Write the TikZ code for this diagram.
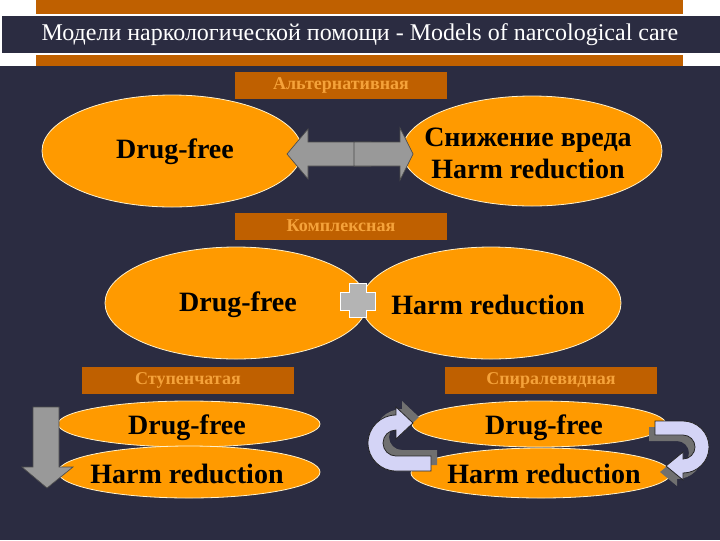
\documentclass[tikz,border=0pt]{standalone}
\usepackage{fontspec}
\setmainfont{Liberation Serif}[BoldFont={Liberation Serif Bold}]
\usetikzlibrary{shapes.geometric}
\definecolor{bgdark}{HTML}{2B2C41}
\definecolor{barorange}{HTML}{BF6000}
\definecolor{ellorange}{HTML}{FF9A00}
\definecolor{labtext}{HTML}{F5A23A}
\definecolor{arrgray}{HTML}{999999}
\definecolor{lav}{HTML}{D4D4F6}
\definecolor{shadowgray}{HTML}{707070}
\definecolor{crossgray}{HTML}{B4B4B4}
\definecolor{ovalline}{HTML}{FFF2CC}
\begin{document}
\begin{tikzpicture}[x=0.75pt,y=-0.75pt,
  oval/.style={ellipse, fill=ellorange, draw=ovalline, line width=0.6pt, inner sep=0pt},
  ovaltext/.style={inner sep=0pt, font=\bfseries\fontsize{21}{24}\selectfont, text=black, align=center},
  labbox/.style={fill=barorange, minimum width=159pt, minimum height=20.25pt, inner sep=0pt, text=labtext, font=\bfseries\fontsize{13.5}{15}\selectfont},
  blockarrow/.style={fill=arrgray, draw=black!70, line width=0.5pt},
  curvarrow/.style={fill=lav, draw=black!85, line width=0.6pt},
  shadowarrow/.style={fill=shadowgray},
  crossshape/.style={fill=crossgray, draw=white, line width=0.6pt}
]
\useasboundingbox (0,0) rectangle (720,540);
\fill[bgdark] (0,0) rectangle (720,540);
\fill[white] (0,0) rectangle (720,66);
\fill[barorange] (36,0) rectangle (683,14);
\fill[barorange] (36,55) rectangle (683,66);
\draw[fill=bgdark, draw=white, line width=0.5pt] (1,15) rectangle (722,53);
\node[text=white, font=\fontsize{18}{20}\selectfont, inner sep=0pt] (title) at (360,35) {Модели наркологической помощи - Models of narcological care};

% labels
\node[labbox] (lab1) at (341,85) {Альтернативная};
\node[labbox] (lab2) at (341,226) {Комплексная};
\node[labbox] (lab3) at (188,380) {Ступенчатая};
\node[labbox] (lab4) at (551,380) {Спиралевидная};

% row 1
\node[oval, minimum width=195pt, minimum height=84pt] (e1l) at (172,151) {};
\node[ovaltext] (t1l) at (175,152) {Drug-free};
\node[oval, minimum width=195pt, minimum height=82.5pt] (e1r) at (532,151) {};
\node[ovaltext] (t1r) at (528,153) {Снижение вреда\\[0pt]Harm reduction};
\path[blockarrow] (371,142) -- (308,142) -- (308,129) -- (287,154) -- (308,179) -- (308,166) -- (371,166) -- cycle;
\path[blockarrow] (354,142) -- (400,142) -- (400,128) -- (413,154) -- (400,180) -- (400,166) -- (354,166) -- cycle;

% row 2
\node[oval, minimum width=196.5pt, minimum height=84pt] (e2l) at (236,303) {};
\node[ovaltext] (t2l) at (238,305) {Drug-free};
\node[oval, minimum width=195pt, minimum height=84pt] (e2r) at (491,303) {};
\node[ovaltext] (t2r) at (488,305) {Harm reduction};
\path[crossshape] (349,283) -- (366,283) -- (366,292) -- (375,292) -- (375,310) -- (366,310) -- (366,317) -- (349,317) -- (349,310) -- (340,310) -- (340,292) -- (349,292) -- cycle;

% row 3 left
\node[oval, minimum width=196.5pt, minimum height=34.5pt] (e3a) at (189,424) {};
\node[oval, minimum width=196.5pt, minimum height=39pt] (e3b) at (189,472) {};
\node[ovaltext] (t3a) at (187,428) {Drug-free};
\node[ovaltext] (t3b) at (187,474) {Harm reduction};
\path[blockarrow] (33,407) -- (59,407) -- (59,467) -- (73,467) -- (47,488) -- (22,467) -- (33,467) -- cycle;

% row 3 right
\node[oval, minimum width=190.5pt, minimum height=34.5pt] (e4a) at (539,424) {};
\node[oval, minimum width=195pt, minimum height=37.5pt] (e4b) at (541,473) {};
\node[ovaltext] (t4a) at (544,428) {Drug-free};
\node[ovaltext] (t4b) at (544,474) {Harm reduction};

% left curved arrow
\path[shadowarrow, shift={(6,-6)}] (431,471) -- (396,471) arc[start angle=90, end angle=270, radius=28] -- (396,407) -- (413,423) -- (396,439) -- (396,430) arc[start angle=270, end angle=90, radius=13] -- (431,456) -- cycle;
\path[curvarrow] (431,471) -- (396,471) arc[start angle=90, end angle=270, radius=28] -- (396,407) -- (413,423) -- (396,439) -- (396,430) arc[start angle=270, end angle=90, radius=13] -- (431,456) -- cycle;

% right curved arrow
\path[shadowarrow, shift={(-6,6)}] (655,421) -- (683,421) arc[start angle=-90, end angle=90, radius=26] -- (683,480) -- (666,466) -- (683,452) -- (683,459) arc[start angle=90, end angle=-90, radius=12] -- (655,435) -- cycle;
\path[curvarrow] (655,421) -- (683,421) arc[start angle=-90, end angle=90, radius=26] -- (683,480) -- (666,466) -- (683,452) -- (683,459) arc[start angle=90, end angle=-90, radius=12] -- (655,435) -- cycle;
\end{tikzpicture}
\end{document}
